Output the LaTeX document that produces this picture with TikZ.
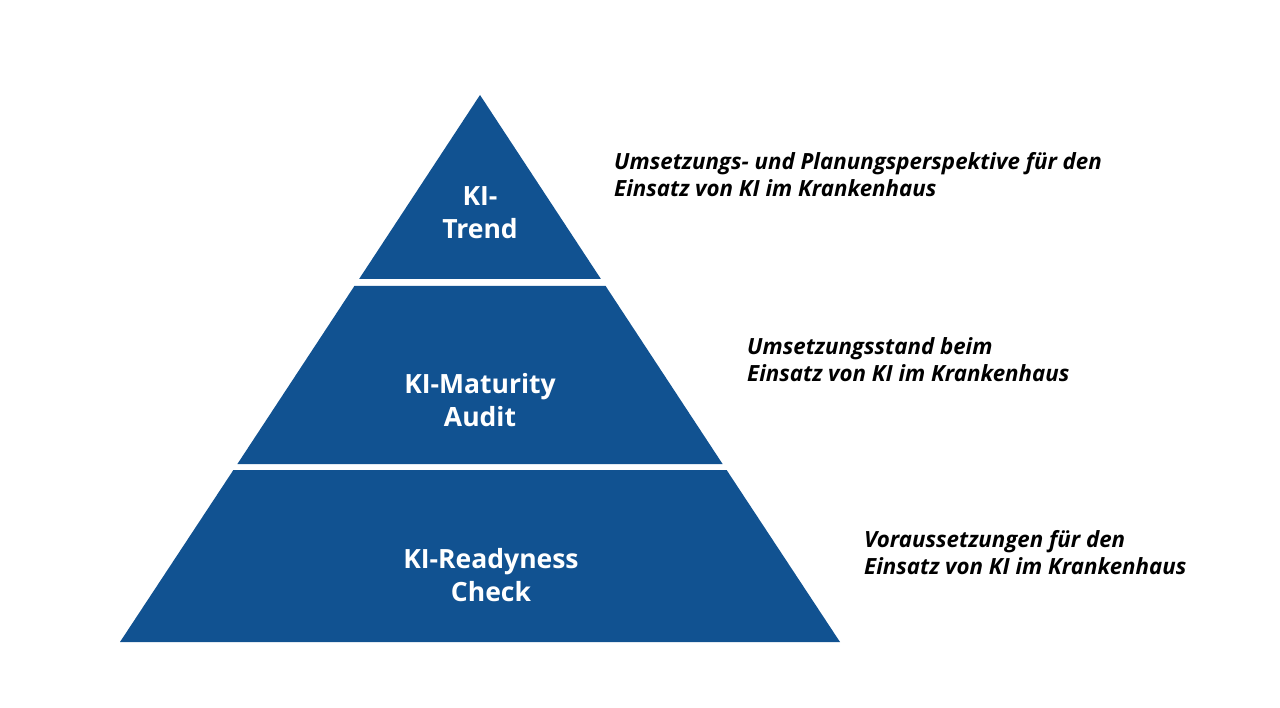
\documentclass[tikz,border=0pt]{standalone}
\usepackage{fontspec}
\setmainfont{Open Sans}
\definecolor{pyrblue}{RGB}{17,82,145}
\begin{document}
\begin{tikzpicture}[x=1pt,y=-1pt,
  tier/.style={fill=pyrblue,draw=none},
  tiertext/.style={text=white,font=\fontsize{26.5}{33}\selectfont\bfseries,align=center,inner sep=0pt},
  desc/.style={text=black,font=\fontsize{22.3}{27}\selectfont\bfseries\itshape,align=left,anchor=west,inner sep=0pt}]
\useasboundingbox (0,0) rectangle (1280,708);
% pyramid: apex (480,95), base y=642 from 120 to 840
\fill[tier] (480,95) -- (600.9,279) -- (359.1,279) -- cycle;
\fill[tier] (354.4,286) -- (605.6,286) -- (722.6,464) -- (237.4,464) -- cycle;
\fill[tier] (233.4,470) -- (726.6,470) -- (840,642) -- (120,642) -- cycle;
\node[tiertext] (t1) at (480,213) {KI-\\Trend};
\node[tiertext] (t2) at (480,400) {KI-Maturity\\Audit};
\node[tiertext] (t3) at (491,575) {KI-Readyness\\Check};
\node[desc] (d1) at (614,174.5) {Umsetzungs- und Planungsperspektive für den\\Einsatz von KI im Krankenhaus};
\node[desc] (d2) at (747,359.5) {Umsetzungsstand beim\\Einsatz von KI im Krankenhaus};
\node[desc] (d3) at (864,553) {Voraussetzungen für den\\Einsatz von KI im Krankenhaus};
\end{tikzpicture}
\end{document}
